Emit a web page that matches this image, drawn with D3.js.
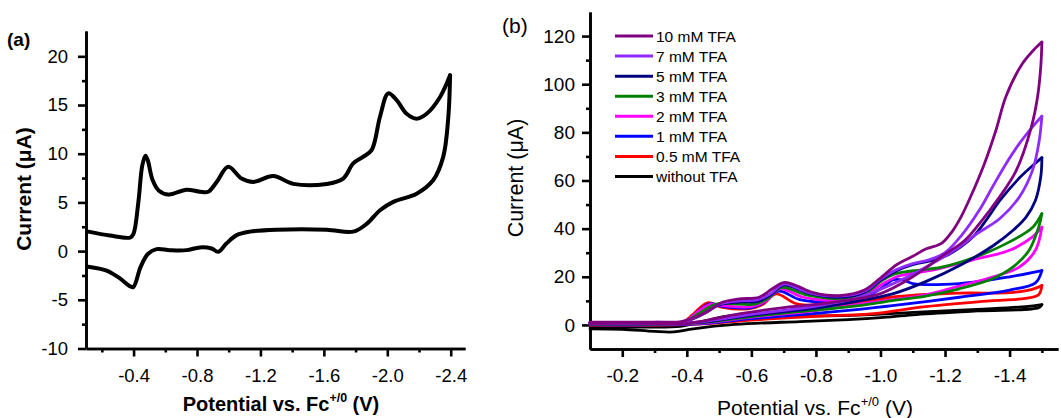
<!DOCTYPE html>
<html>
<head>
<meta charset="utf-8">
<script src="https://cdnjs.cloudflare.com/ajax/libs/d3/7.8.5/d3.min.js"></script>
<style>
  body { margin: 0; background: #fff; }
  text { font-family: "Liberation Sans", Arial, sans-serif; fill: #000; }
</style>
</head>
<body>
<svg id="chart" width="1061" height="418"></svg>
<script>
// ---- panel (a): one CV, values [potential V, current uA] ----
const cvForwardA = [[-0.114, 2.0], [-0.25, 1.6], [-0.38, 1.4], [-0.4, 1.8], [-0.43, 5.0], [-0.455, 8.8],
    [-0.475, 9.8], [-0.49, 9.3], [-0.52, 7.3], [-0.56, 6.2], [-0.62, 5.8], [-0.734, 6.3], [-0.818, 6.1],
    [-0.871, 6.1], [-0.924, 7.1], [-0.997, 8.65], [-1.081, 7.45], [-1.155, 7.1], [-1.281, 7.7], [-1.407, 6.9],
    [-1.618, 6.9], [-1.722, 7.45], [-1.785, 9.0], [-1.849, 9.7], [-1.902, 10.4], [-1.954, 13.8], [-2.006, 16.2],
    [-2.059, 15.5], [-2.122, 14.1], [-2.185, 13.6], [-2.248, 14.1], [-2.332, 15.8], [-2.396, 18.05]];
const cvReturnA = [[-2.396, 18.05], [-2.385, 13.8], [-2.353, 9.7], [-2.29, 7.3], [-2.185, 5.9], [-2.038, 5.06],
    [-1.954, 4.2], [-1.87, 2.8], [-1.785, 2.0], [-1.618, 2.2], [-1.302, 2.2], [-1.134, 2.0], [-1.05, 1.64],
    [-0.987, 0.8], [-0.934, -0.07], [-0.892, 0.27], [-0.818, 0.38], [-0.734, 0.1], [-0.629, 0.1], [-0.545, 0.2],
    [-0.49, -0.3], [-0.445, -1.6], [-0.398, -3.7], [-0.377, -3.6], [-0.314, -2.8], [-0.23, -2.0], [-0.114, -1.6]];
const xTicksA = [-0.4, -0.8, -1.2, -1.6, -2.0, -2.4];
const xMinorA = [-0.2, -0.6, -1.0, -1.4, -1.8, -2.2];
const yTicksA = [-10, -5, 0, 5, 10, 15, 20];
const yMinorA = [-7.5, -2.5, 2.5, 7.5, 12.5, 17.5];

// ---- panel (b): CVs at increasing TFA ----
const seriesNames = ["10 mM TFA", "7 mM TFA", "5 mM TFA", "3 mM TFA", "2 mM TFA", "1 mM TFA", "0.5 mM TFA", "without TFA"];
const seriesColors = ["#800080", "#8f2bff", "#000080", "#008000", "#ff00ff", "#0000ff", "#ff0000", "#000000"];

const fwd10 = [[-0.1, 1.2], [-0.3, 1.2], [-0.386, 1.5], [-0.459, 5.2], [-0.51, 9.4], [-0.562, 10.8], [-0.624, 11.5],
    [-0.665, 15], [-0.702, 17.7], [-0.738, 16.4], [-0.789, 13.5], [-0.872, 12.2], [-0.95, 14.5], [-1.0, 19.5],
    [-1.05, 25], [-1.1, 28.5], [-1.14, 31.5], [-1.19, 34], [-1.223, 39], [-1.25, 45], [-1.275, 52], [-1.322, 67],
    [-1.358, 81], [-1.389, 95], [-1.44, 108.6], [-1.48, 115], [-1.5, 117.5]];
const ret10 = [[-1.5, 117.5], [-1.497, 108], [-1.487, 95], [-1.467, 82], [-1.42, 64], [-1.368, 53], [-1.306, 42],
    [-1.26, 35], [-1.19, 28.5], [-1.09, 19.2], [-1.0, 13], [-0.934, 11], [-0.8, 8.5], [-0.707, 7.3], [-0.562, 4.6],
    [-0.45, 1.6], [-0.386, 0.4], [-0.3, 0.6], [-0.1, 0.6]];

const fwd7 = [[-0.1, 1.1], [-0.3, 1.1], [-0.39, 1.4], [-0.45, 4.5], [-0.5, 8.6], [-0.56, 10], [-0.62, 10.5],
    [-0.66, 13], [-0.7, 17], [-0.78, 13.3], [-0.87, 12], [-0.95, 14], [-1.0, 19], [-1.05, 23], [-1.1, 25.5],
    [-1.15, 27], [-1.2, 30], [-1.25, 37], [-1.306, 47.6], [-1.347, 57.3], [-1.389, 67], [-1.43, 75.3],
    [-1.471, 82.3], [-1.5, 86.7]];
const ret7 = [[-1.5, 86.7], [-1.492, 76.7], [-1.471, 64.2], [-1.43, 53.1], [-1.368, 44], [-1.3, 38], [-1.244, 32.3],
    [-1.14, 24], [-1.037, 17], [-0.934, 11.5], [-0.8, 7.8], [-0.6, 4.4], [-0.45, 1.4], [-0.3, 0.5], [-0.1, 0.5]];

const fwd5 = [[-0.1, 1.0], [-0.3, 1.0], [-0.39, 1.3], [-0.45, 4.5], [-0.5, 8.3], [-0.56, 9.5], [-0.62, 9.8],
    [-0.66, 12.5], [-0.7, 16.5], [-0.78, 13], [-0.87, 11.5], [-0.95, 13.5], [-1.0, 18.5], [-1.05, 22.5], [-1.1, 25],
    [-1.15, 26.5], [-1.2, 28.5], [-1.25, 32.5], [-1.29, 37], [-1.33, 44], [-1.37, 51.7], [-1.43, 61], [-1.47, 66],
    [-1.5, 69.5]];
const ret5 = [[-1.5, 69.5], [-1.497, 62], [-1.48, 51.7], [-1.451, 44.8], [-1.41, 39.2], [-1.35, 33], [-1.25, 25],
    [-1.14, 18], [-1.04, 13], [-0.934, 10], [-0.8, 7], [-0.6, 4], [-0.45, 1.2], [-0.3, 0.4], [-0.1, 0.4]];

const fwd3 = [[-0.1, 0.9], [-0.3, 0.9], [-0.39, 1.2], [-0.44, 5], [-0.49, 8.6], [-0.54, 8.8], [-0.61, 8.6],
    [-0.65, 11], [-0.695, 15.6], [-0.77, 12.5], [-0.87, 11], [-0.95, 13], [-1.0, 18], [-1.04, 21], [-1.09, 22.3],
    [-1.19, 24], [-1.296, 28.3], [-1.4, 34.5], [-1.472, 40.6], [-1.5, 46.2]];
const ret3 = [[-1.5, 46.2], [-1.49, 40.6], [-1.46, 30.9], [-1.41, 24], [-1.347, 19.2], [-1.244, 15], [-1.14, 12],
    [-1.037, 10.1], [-0.934, 8], [-0.8, 6.2], [-0.6, 3.5], [-0.45, 1.0], [-0.3, 0.3], [-0.1, 0.3]];

const fwd2 = [[-0.1, 0.8], [-0.3, 0.8], [-0.39, 1.1], [-0.43, 5], [-0.475, 8.6], [-0.52, 7.9], [-0.6, 7.6],
    [-0.645, 10], [-0.69, 15], [-0.76, 11.5], [-0.86, 10.2], [-0.95, 12.5], [-1.0, 16.5], [-1.05, 20], [-1.1, 21.5],
    [-1.17, 23], [-1.3, 27.5], [-1.4, 31], [-1.47, 36.5], [-1.5, 40.6]];
const ret2 = [[-1.5, 40.6], [-1.48, 31], [-1.43, 24], [-1.35, 20], [-1.24, 16], [-1.14, 12.5], [-1.04, 10.5],
    [-0.93, 8.5], [-0.8, 6], [-0.6, 3.2], [-0.45, 0.8], [-0.3, 0.2], [-0.1, 0.2]];

const fwd1 = [[-0.1, 0.7], [-0.3, 0.7], [-0.39, 1.0], [-0.43, 5], [-0.47, 8.8], [-0.515, 7.6], [-0.6, 7.2],
    [-0.64, 9.5], [-0.685, 14.0], [-0.75, 10.5], [-0.85, 9.6], [-0.95, 11.5], [-1.0, 15], [-1.04, 18.8],
    [-1.07, 18.6], [-1.1, 17.2], [-1.244, 17.2], [-1.4, 20.0], [-1.5, 22.6]];
const ret1 = [[-1.5, 22.6], [-1.48, 17.5], [-1.4, 14.5], [-1.244, 11.5], [-1.037, 8], [-0.934, 6.5], [-0.8, 4.8],
    [-0.6, 2.6], [-0.45, 0.6], [-0.3, 0.0], [-0.1, 0.0]];

const fwd05 = [[-0.1, 0.6], [-0.3, 0.6], [-0.386, 1.0], [-0.42, 4.5], [-0.464, 9.2], [-0.51, 7.3], [-0.59, 6.7],
    [-0.635, 8.5], [-0.676, 12.9], [-0.74, 8.8], [-0.82, 8.3], [-0.93, 9.0], [-1.03, 11.5], [-1.24, 13.2],
    [-1.4, 13.4], [-1.47, 14.8], [-1.5, 16.4]];
const ret05 = [[-1.5, 16.4], [-1.49, 12.5], [-1.45, 11], [-1.35, 10.1], [-1.14, 7.6], [-0.97, 4.6], [-0.8, 3.6],
    [-0.6, 2.0], [-0.45, 0.4], [-0.3, -0.2], [-0.1, -0.2]];

const fwd0 = [[-0.1, -0.8], [-0.25, -0.9], [-0.38, -0.6], [-0.45, 1.5], [-0.52, 3.5], [-0.6, 4.8], [-0.68, 4.5],
    [-0.8, 3.8], [-0.95, 4.2], [-1.1, 5.2], [-1.3, 6.5], [-1.45, 7.6], [-1.5, 8.4]];
const ret0 = [[-1.5, 8.4], [-1.49, 7.2], [-1.3, 5.8], [-1.1, 4.2], [-1.0, 3.0], [-0.9, 2.2], [-0.75, 1.4],
    [-0.55, 0.2], [-0.42, -1.6], [-0.36, -2.9], [-0.3, -2.7], [-0.2, -1.8], [-0.1, -1.6]];

const forwardB = [fwd10, fwd7, fwd5, fwd3, fwd2, fwd1, fwd05, fwd0];
const returnB = [ret10, ret7, ret5, ret3, ret2, ret1, ret05, ret0];

const xTicksB = [-0.2, -0.4, -0.6, -0.8, -1.0, -1.2, -1.4];
const xMinorB = [-0.3, -0.5, -0.7, -0.9, -1.1, -1.3, -1.5];
const yTicksB = [0, 20, 40, 60, 80, 100, 120];
const yMinorB = [10, 30, 50, 70, 90, 110];


const svg = d3.select("#chart");

function drawAxes(g, x, y, cfg) {
    const fmtX = d => d.toFixed(1);
    g.append("g")
        .attr("transform", `translate(0,${y.range()[0]})`)
        .call(d3.axisBottom(x).tickValues(cfg.xTicks).tickFormat(fmtX).tickSize(8).tickSizeOuter(0).tickPadding(12));
    g.append("g")
        .attr("transform", `translate(0,${y.range()[0]})`)
        .call(d3.axisBottom(x).tickValues(cfg.xMinor).tickFormat("").tickSize(4).tickSizeOuter(0));
    g.append("g")
        .attr("transform", `translate(${x.range()[0]},0)`)
        .call(d3.axisLeft(y).tickValues(cfg.yTicks).tickFormat(d => String(d)).tickSize(8).tickSizeOuter(0).tickPadding(cfg.yPad));
    g.append("g")
        .attr("transform", `translate(${x.range()[0]},0)`)
        .call(d3.axisLeft(y).tickValues(cfg.yMinor).tickFormat("").tickSize(4).tickSizeOuter(0));

    g.selectAll(".domain, .tick line")
        .attr("stroke", "#000")
        .attr("stroke-width", 2.6);
    g.selectAll(".tick text")
        .attr("font-family", "'Liberation Sans', Arial, sans-serif")
        .attr("font-size", cfg.tickFont)
        .attr("fill", "#000");
}

function xTitle(g, cx, y, weight, size) {
    const t = g.append("text")
        .attr("x", cx).attr("y", y)
        .attr("text-anchor", "middle")
        .attr("font-size", size)
        .attr("font-weight", weight);
    t.append("tspan").text("Potential vs. Fc");
    t.append("tspan").attr("font-size", size * 0.62).attr("dy", -size * 0.45).text("+/0");
    t.append("tspan").attr("dy", size * 0.45).text(" (V)");
}

function yTitle(g, x, cy, weight, size) {
    g.append("text")
        .attr("transform", `translate(${x},${cy}) rotate(-90)`)
        .attr("text-anchor", "middle")
        .attr("font-size", size)
        .attr("font-weight", weight)
        .text("Current (\u03bcA)");
}

const curve = d3.curveCatmullRom.alpha(0.5);

// ---------------- panel (a) ----------------
const xA = d3.scaleLinear().domain([-0.1, -2.49]).range([86, 465]);
const yA = d3.scaleLinear().domain([-10, 22.6]).range([348.5, 31]);
const gA = svg.append("g");

drawAxes(gA, xA, yA, { xTicks: xTicksA, xMinor: xMinorA, yTicks: yTicksA, yMinor: yMinorA, yPad: 10, tickFont: 18.5 });

const lineA = d3.line().x(d => xA(d[0])).y(d => yA(d[1])).curve(curve);
gA.selectAll("path.cv")
    .data([cvForwardA, cvReturnA])
    .join("path")
    .attr("class", "cv")
    .attr("d", lineA)
    .attr("fill", "none")
    .attr("stroke", "#000")
    .attr("stroke-width", 4)
    .attr("stroke-linejoin", "round")
    .attr("stroke-linecap", "round");

gA.append("text").attr("x", 7).attr("y", 46).attr("font-size", 19).attr("font-weight", "bold").text("(a)");
xTitle(gA, 281, 411, "bold", 20);
yTitle(gA, 31, 189, "bold", 21);

// ---------------- panel (b) ----------------
const xB = d3.scaleLinear().domain([-0.1, -1.55]).range([590, 1058]);
const yB = d3.scaleLinear().domain([-10, 130]).range([349, 12]);
const gB = svg.append("g");

drawAxes(gB, xB, yB, { xTicks: xTicksB, xMinor: xMinorB, yTicks: yTicksB, yMinor: yMinorB, yPad: 7, tickFont: 19 });

const lineB = d3.line().x(d => xB(d[0])).y(d => yB(d[1])).curve(curve);

// draw lowest concentration first so 10 mM ends on top
const order = d3.range(seriesNames.length).reverse();
order.forEach(i => {
    gB.selectAll(null)
        .data([forwardB[i], returnB[i]])
        .join("path")
        .attr("d", lineB)
        .attr("fill", "none")
        .attr("stroke", seriesColors[i])
        .attr("stroke-width", 2.8)
        .attr("stroke-linejoin", "round")
        .attr("stroke-linecap", "round");
});

const legend = gB.append("g");
const rowY = d3.scalePoint().domain(seriesNames).range([36, 176.5]);
legend.selectAll("line")
    .data(seriesNames)
    .join("line")
    .attr("x1", 615).attr("x2", 653)
    .attr("y1", d => rowY(d)).attr("y2", d => rowY(d))
    .attr("stroke", (d, i) => seriesColors[i])
    .attr("stroke-width", 3);
legend.selectAll("text")
    .data(seriesNames)
    .join("text")
    .attr("x", 656)
    .attr("y", d => rowY(d) + 5.5)
    .attr("font-size", 15.5)
    .text(d => d);

gB.append("text").attr("x", 502).attr("y", 33).attr("font-size", 21).text("(b)");
xTitle(gB, 815, 415, "normal", 21);
yTitle(gB, 523, 178, "normal", 21.5);
</script>
</body>
</html>
